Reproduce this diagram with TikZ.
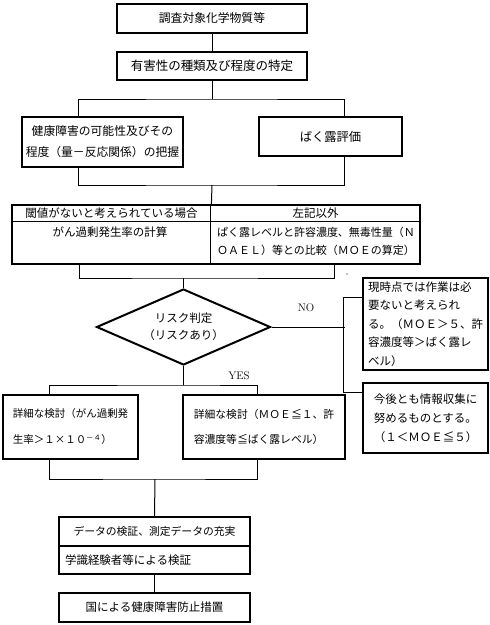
\documentclass[tikz,border=0pt]{standalone}
\usepackage{fontspec}
\newfontfamily\jp{Noto Sans CJK JP}
\usetikzlibrary{shapes.geometric,calc}
\newcommand{\jpf}[2]{\jp\fontsize{#1}{#2}\selectfont}
\begin{document}
\begin{tikzpicture}[x=1pt,y=-1pt,
  box/.style={draw,line width=2.2pt,inner sep=0pt,font=\jpf{11.5}{14}},
  cellline/.style={line width=1pt},
  conn/.style={line width=1pt},
  celltext/.style={inner sep=0pt,font=\jpf{11.5}{18}},
  lbl/.style={inner sep=0pt,font=\fontsize{11}{13}\selectfont}]
\useasboundingbox (0,0) rectangle (490,625);
\fill[white] (0,0) rectangle (490,625);

% top boxes
\node[box,minimum width=190pt,minimum height=29pt,font=\jpf{11.8}{14}] (b1) at (212,18.5) {調査対象化学物質等};
\node[box,minimum width=190pt,minimum height=28pt,font=\jpf{12.5}{14}] (b2) at (212,66) {有害性の種類及び程度の特定};
\node[box,minimum width=161pt,minimum height=50pt,align=center,font=\jpf{11.8}{21}] (b3) at (102.5,142) {健康障害の可能性及びその\\程度（量－反応関係）の把握};
\node[box,minimum width=143pt,minimum height=39pt,font=\jpf{12.3}{14}] (b4) at (330.5,136.5) {ばく露評価};

\coordinate (j1) at (212,99);
\draw[conn] (b1.south) -- (b2.north);
\draw[conn] (b2.south) -- (j1);
\draw[conn] ($(b3.north west)+(58,0)$) |- (j1) -| ($(b4.north west)+(87,0)$);

% table
\node[draw,line width=1.2pt,inner sep=0pt,minimum width=408pt,minimum height=59pt] (tbl) at (216,234.5) {};
\draw[cellline] ($(tbl.north west)+(0,17)$) -- ($(tbl.north east)+(0,17)$);
\draw[cellline] ($(tbl.north west)+(199,0)$) -- ($(tbl.south west)+(199,0)$);
\node[celltext] (hl) at (111.5,213.5) {閾値がないと考えられている場合};
\node[celltext] (hr) at (315.5,213.5) {左記以外};
\node[celltext] (cl) at (110,232) {がん過剰発生率の計算};
\node[celltext,align=left,font=\jpf{11}{18}] (cr) at (316,241) {ぱく露レベルと許容濃度、無毒性量（Ｎ\\ＯＡＥＬ）等との比較（ＭＯＥの算定）};

\coordinate (j2) at (212,185);
\draw[conn] ($(b3.south west)+(58,0)$) |- (j2) -| ($(b4.south west)+(87,0)$);
\draw[conn] (j2) -- ($(tbl.north west)+(200,0)$);

% diamond
\node[draw,diamond,line width=2pt,inner sep=0pt,minimum width=174pt,minimum height=76pt,aspect=2.3,align=center,font=\jpf{11.5}{17}] (dia) at (183.5,327) {リスク判定\\（リスクあり）};
\coordinate (j3) at (183.5,278);
\draw[conn] ($(tbl.south west)+(68,0)$) |- (j3) -| ($(tbl.south west)+(323,0)$);
\draw[conn] (j3) -- (dia.north);
\fill (347,274) circle[radius=0.7pt];

\node[lbl] (no) at (306,308) {NO};
\node[lbl] (yes) at (239,376) {YES};

% right boxes
\node[box,minimum width=125pt,minimum height=92pt,align=left,font=\jpf{11.5}{18.5}] (r1) at (425.5,324) {現時点では作業は必\\要ないと考えられ\\る。（ＭＯＥ＞５、許\\容濃度等＞ばく露レ\\ベル）};
\node[box,minimum width=125pt,minimum height=70pt,align=left,font=\jpf{11.5}{19}] (r2) at (425.5,418) {今後とも情報収集に\\努めるものとする。\\（１＜ＭＯＥ≦５）};

\coordinate (j4) at (345,327);
\draw[conn] (dia.east) -- (j4);
\draw[conn] ($(r1.north west)+(0,21)$) -| ($(r2.north west)+(-18,11)$) -- ($(r2.north west)+(0,11)$);

% detail boxes
\node[box,minimum width=135pt,minimum height=64pt,align=left,font=\jpf{10.5}{26}] (d1) at (70.5,427) {詳細な検討（がん過剰発\\生率＞１×１０\textsuperscript{－４}）};
\node[box,minimum width=162pt,minimum height=64pt,align=left,font=\jpf{10.8}{25}] (d2) at (264,427) {詳細な検討（ＭＯＥ≦１、許\\容濃度等≦ばく露レベル）};

\coordinate (j5) at (183.5,385);
\draw[conn] (dia.south) -- (j5);
\draw[conn] ($(d1.north west)+(48,0)$) |- (j5) -| ($(d2.north west)+(76,0)$);

\coordinate (j6) at (155,479);
\draw[conn] ($(d1.south west)+(48,0)$) |- (j6) -| ($(d2.south west)+(76,0)$);

% bottom boxes
\node[box,minimum width=191pt,minimum height=29pt,font=\jpf{10.8}{14}] (v1) at (154.5,531.5) {データの検証、測定データの充実};
\node[box,minimum width=191pt,minimum height=28pt,text width=179pt,align=left] (v2) at (154.5,560) {学識経験者等による検証};
\node[box,minimum width=191pt,minimum height=29pt] (f) at (154.5,607.5) {国による健康障害防止措置};

\draw[conn] (j6) -- (v1.north);
\draw[conn] (v2.south) -- (f.north);
\end{tikzpicture}
\end{document}
